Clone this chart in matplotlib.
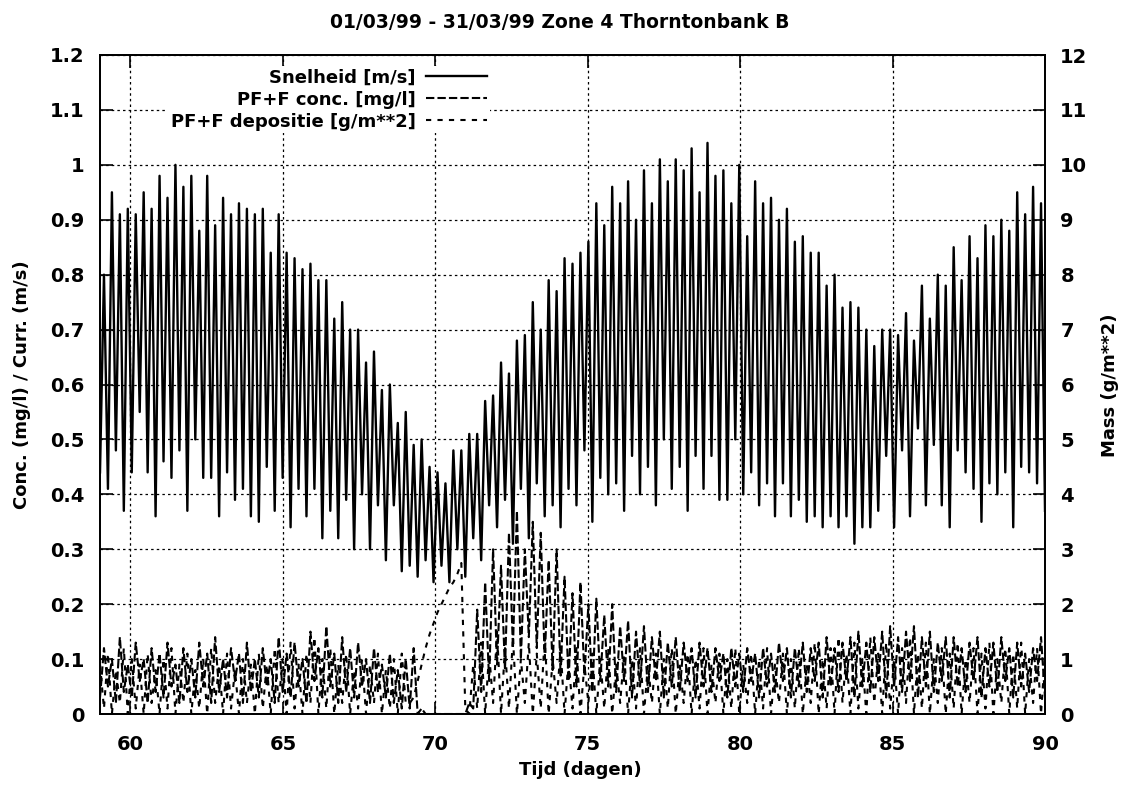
import numpy as np
import matplotlib.pyplot as plt
from matplotlib.ticker import FuncFormatter

plt.rcParams['font.family'] = ['DejaVu Sans']
plt.rcParams['font.weight'] = 'bold'

t_start, t_end = 59, 90

# speed (m/s): troughs and peaks, in time order
speed_lo = [0.44, 0.41, 0.48, 0.37, 0.44, 0.55, 0.44, 0.36, 0.46, 0.43, 0.48, 0.37, 0.50, 0.43, 0.43, 0.36, 0.44, 0.39, 0.41, 0.36,
            0.35, 0.45, 0.37, 0.43, 0.34, 0.41, 0.36, 0.41, 0.32, 0.37, 0.32, 0.39, 0.30, 0.40, 0.30, 0.38, 0.28, 0.38, 0.26, 0.27,
            0.25, 0.28, 0.24, 0.27, 0.24, 0.30, 0.25, 0.32, 0.28, 0.38, 0.34, 0.39, 0.31, 0.41, 0.32, 0.42, 0.36, 0.38, 0.34,
            0.41, 0.38, 0.48, 0.35, 0.43, 0.40, 0.42, 0.37, 0.47, 0.40, 0.45, 0.38, 0.50, 0.41, 0.45, 0.37, 0.47, 0.41, 0.47, 0.39,
            0.39, 0.50, 0.40, 0.44, 0.38, 0.42, 0.36, 0.42, 0.36, 0.39, 0.35, 0.36, 0.34, 0.36, 0.34, 0.36, 0.31, 0.34, 0.34, 0.37,
            0.47, 0.34, 0.48, 0.36, 0.52, 0.38, 0.49, 0.38, 0.34, 0.48, 0.44, 0.41, 0.35, 0.42, 0.40, 0.44, 0.34, 0.45, 0.44, 0.42, 0.37]
speed_hi = [0.80, 0.95, 0.91, 0.92, 0.91, 0.95, 0.92, 0.98, 0.94, 1.00, 0.96, 0.98, 0.88, 0.98, 0.89, 0.94, 0.91, 0.93, 0.92, 0.91,
            0.92, 0.84, 0.91, 0.84, 0.83, 0.81, 0.82, 0.79, 0.79, 0.72, 0.75, 0.70, 0.70, 0.64, 0.66, 0.59, 0.60, 0.53, 0.55, 0.49,
            0.50, 0.45, 0.44, 0.42, 0.48, 0.48, 0.51, 0.51, 0.57, 0.58, 0.64, 0.62, 0.68, 0.69, 0.75, 0.70, 0.79, 0.77, 0.83,
            0.82, 0.84, 0.86, 0.93, 0.89, 0.96, 0.93, 0.97, 0.90, 0.99, 0.93, 1.01, 0.97, 1.01, 0.99, 1.03, 0.95, 1.04, 0.98, 0.99,
            0.93, 1.00, 0.87, 0.97, 0.93, 0.94, 0.90, 0.92, 0.86, 0.87, 0.84, 0.84, 0.78, 0.80, 0.74, 0.75, 0.74, 0.70, 0.67, 0.70,
            0.70, 0.69, 0.73, 0.68, 0.78, 0.72, 0.80, 0.78, 0.85, 0.79, 0.87, 0.83, 0.89, 0.87, 0.90, 0.88, 0.95, 0.91, 0.96, 0.93]

# PF+F concentration (mg/l)
conc_lo = [0.03, 0.05, 0.02, 0.04, 0.03, 0.06, 0.02, 0.04, 0.03, 0.05, 0.02, 0.04, 0.03, 0.05, 0.02, 0.04, 0.03, 0.06, 0.02, 0.04,
           0.03, 0.05, 0.02, 0.04, 0.03, 0.05, 0.02, 0.06, 0.03, 0.05, 0.02, 0.04, 0.03, 0.05, 0.02, 0.04, 0.03, 0.02, 0.01, 0.01,
           0.0, 0.0, 0.0, 0.0, 0.0, 0.0, 0.0, 0.01, 0.04, 0.06, 0.09, 0.08, 0.12, 0.10, 0.14, 0.12, 0.10, 0.08, 0.07,
           0.06, 0.05, 0.07, 0.04, 0.06, 0.05, 0.04, 0.06, 0.03, 0.05, 0.04, 0.06, 0.03, 0.05, 0.04, 0.06, 0.03, 0.05, 0.04, 0.06,
           0.03, 0.05, 0.04, 0.06, 0.03, 0.05, 0.04, 0.06, 0.03, 0.05, 0.04, 0.06, 0.03, 0.05, 0.04, 0.06, 0.03, 0.05, 0.04, 0.06,
           0.03, 0.05, 0.04, 0.06, 0.03, 0.05, 0.04, 0.06, 0.03, 0.05, 0.04, 0.06, 0.03, 0.05, 0.04, 0.06, 0.03, 0.05, 0.04, 0.06, 0.03]
conc_hi = [0.12, 0.10, 0.14, 0.09, 0.13, 0.10, 0.12, 0.11, 0.13, 0.09, 0.12, 0.10, 0.13, 0.11, 0.14, 0.10, 0.12, 0.11, 0.13, 0.10,
           0.12, 0.10, 0.14, 0.11, 0.13, 0.10, 0.15, 0.12, 0.16, 0.11, 0.14, 0.12, 0.13, 0.10, 0.12, 0.09, 0.11, 0.08, 0.10, 0.12,
           0.01, 0.0, 0.0, 0.0, 0.0, 0.0, 0.02, 0.19, 0.24, 0.30, 0.27, 0.33, 0.37, 0.30, 0.35, 0.33, 0.28, 0.30, 0.25,
           0.22, 0.24, 0.20, 0.21, 0.18, 0.20, 0.16, 0.17, 0.15, 0.16, 0.14, 0.15, 0.13, 0.14, 0.13, 0.12, 0.13, 0.12, 0.12, 0.11,
           0.12, 0.11, 0.12, 0.11, 0.12, 0.11, 0.13, 0.12, 0.12, 0.13, 0.12, 0.13, 0.14, 0.12, 0.13, 0.14, 0.15, 0.13, 0.14, 0.15,
           0.16, 0.14, 0.15, 0.16, 0.14, 0.15, 0.13, 0.14, 0.14, 0.12, 0.13, 0.14, 0.12, 0.13, 0.14, 0.12, 0.13, 0.11, 0.12, 0.14]

# PF+F deposition (g/m**2), at slack water and at peak current
dep_hi = [0.9, 1.1, 0.8, 1.2, 1.0, 0.9, 1.1, 0.8, 1.0, 1.2, 0.9, 1.1, 0.8, 1.0, 1.2, 0.9, 1.1, 0.8, 1.0, 0.9,
          1.1, 0.9, 1.2, 1.0, 1.3, 0.9, 1.1, 1.4, 1.0, 1.2, 0.9, 1.1, 0.8, 1.0, 0.9, 1.1, 0.8, 1.0, 1.1, 0.2,
          0.6, 1.2, 1.65, 2.0, 2.3, 2.55, 0.1, 0.9, 1.3, 1.1, 1.5, 1.2, 1.4, 1.0, 1.3, 1.1, 1.4, 1.0, 1.2,
          1.0, 1.2, 0.9, 1.1, 1.0, 1.2, 0.9, 1.1, 1.0, 1.2, 0.9, 1.1, 1.0, 1.2, 0.9, 1.1, 1.0, 1.2, 0.9, 1.1,
          1.0, 1.2, 0.9, 1.1, 1.0, 1.2, 0.9, 1.1, 1.0, 1.2, 0.9, 1.3, 1.0, 1.2, 1.4, 1.1, 1.3, 1.0, 1.4, 1.1,
          1.3, 1.0, 1.2, 1.4, 1.1, 1.3, 1.0, 1.2, 1.1, 1.3, 1.0, 1.2, 1.1, 1.3, 1.0, 1.2, 1.1, 1.3, 1.0, 1.2, 1.1]
dep_lo = [0.1, 0.0, 0.2, 0.0, 0.1, 0.0, 0.2, 0.0, 0.1, 0.0, 0.2, 0.0, 0.1, 0.0, 0.2, 0.0, 0.1, 0.0, 0.2, 0.0,
          0.1, 0.0, 0.2, 0.0, 0.1, 0.0, 0.2, 0.0, 0.1, 0.0, 0.2, 0.0, 0.1, 0.0, 0.2, 0.0, 0.1, 0.0, 0.2, 0.3,
          0.9, 1.45, 1.85, 2.15, 2.4, 2.75, 0.0, 0.1, 0.0, 0.2, 0.0, 0.1, 0.0, 0.2, 0.0, 0.1, 0.0, 0.2, 0.0,
          0.1, 0.0, 0.2, 0.0, 0.1, 0.0, 0.2, 0.0, 0.1, 0.0, 0.2, 0.0, 0.1, 0.0, 0.2, 0.0, 0.1, 0.0, 0.2, 0.0,
          0.1, 0.0, 0.2, 0.0, 0.1, 0.0, 0.2, 0.0, 0.1, 0.0, 0.2, 0.0, 0.1, 0.0, 0.2, 0.0, 0.1, 0.0, 0.2, 0.0,
          0.1, 0.0, 0.2, 0.0, 0.1, 0.0, 0.2, 0.0, 0.1, 0.0, 0.2, 0.0, 0.1, 0.0, 0.2, 0.0, 0.1, 0.0, 0.2, 0.0]


def weave(a, b):
    out = np.empty(len(a) + len(b))
    out[0::2] = a
    out[1::2] = b
    return out


snelheid = weave(speed_lo, speed_hi)
conc = weave(conc_lo, conc_hi)
depositie = weave(dep_hi, dep_lo)
tijd = np.linspace(t_start, t_end, len(snelheid))

W, H = 1130, 785
fig = plt.figure(figsize=(W / 100, H / 100), dpi=100)
ax = fig.add_axes([100 / W, 1 - 714 / H, 945 / W, 659 / H])
ax2 = ax.twinx()

l1, = ax.plot(tijd, snelheid, color='k', lw=1.7, label='Snelheid [m/s]')
l2, = ax.plot(tijd, conc, color='k', lw=1.5, ls=(0, (4, 1.5)), label='PF+F conc. [mg/l]')
l3, = ax2.plot(tijd, depositie, color='k', lw=1.5, ls=(0, (2.5, 3)), label='PF+F depositie [g/m**2]')

ax.set_xlim(59, 90)
ax.set_ylim(0, 1.2)
ax2.set_ylim(0, 12)
ax.set_xticks(range(60, 91, 5))
ax.set_yticks(np.arange(0, 1.21, 0.1))
ax2.set_yticks(range(0, 13))
fmt = FuncFormatter(lambda v, p: '%g' % round(v, 2))
ax.yaxis.set_major_formatter(fmt)
ax2.yaxis.set_major_formatter(fmt)

ax.grid(True, color='k', ls=(0, (2, 2.5)), lw=0.9)
ax.tick_params(direction='in', length=9, width=1.2, top=True, right=False, labelsize=14)
ax.tick_params(axis='x', pad=15)
ax.tick_params(axis='y', pad=11)
ax2.tick_params(direction='in', length=9, width=1.2, labelsize=14, pad=11)
for a in (ax, ax2):
    for s in a.spines.values():
        s.set_linewidth(1.3)

leg = ax2.legend([l1, l2, l3], [l1.get_label(), l2.get_label(), l3.get_label()],
                 loc='upper right', bbox_to_anchor=(0.422, 0.997), markerfirst=False,
                 frameon=True, facecolor='white', edgecolor='none', framealpha=1, fancybox=False,
                 fontsize=13, handlelength=3.4, handletextpad=0.55, borderpad=0.15, labelspacing=0.22)

fig.text(560 / W, 1 - 22 / H, '01/03/99 - 31/03/99 Zone 4 Thorntonbank B', ha='center', va='center', fontsize=13.5)
fig.text(580 / W, 1 - 770 / H, 'Tijd (dagen)', ha='center', va='center', fontsize=13)
fig.text(22 / W, 1 - 385 / H, 'Conc. (mg/l) / Curr. (m/s)', ha='center', va='center', rotation=90, fontsize=13)
fig.text(1110 / W, 1 - 385 / H, 'Mass (g/m**2)', ha='center', va='center', rotation=90, fontsize=13)

fig.savefig('out.png', dpi=100)
